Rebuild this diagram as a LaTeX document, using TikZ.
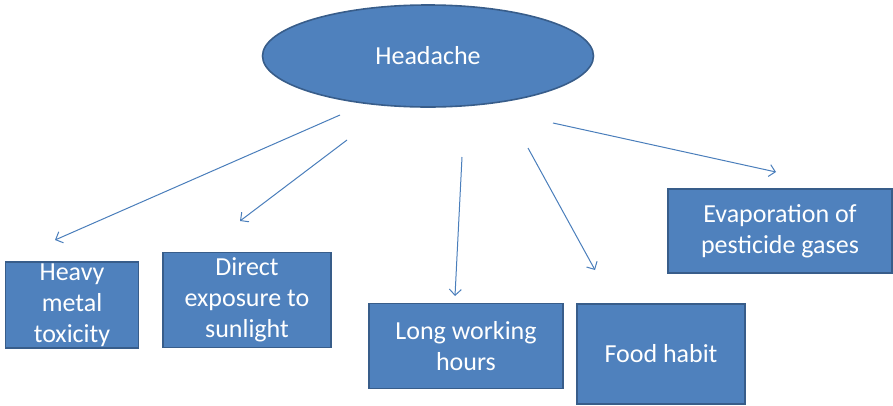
\documentclass[tikz,border=0pt]{standalone}
\usepackage{fontspec}
\setmainfont{Carlito}
\usetikzlibrary{arrows.meta,shapes}

\definecolor{boxblue}{HTML}{4F81BD}
\definecolor{rimblue}{HTML}{385D8A}
\definecolor{lineblue}{HTML}{4A7EBB}

\begin{document}
\begin{tikzpicture}[x=1pt,y=-1pt,>={Straight Barb[length=6pt,width=12pt]},
		every edge/.style={draw=lineblue,line width=1pt,->},
		cause node/.style={rectangle,draw=rimblue,fill=boxblue,line width=1.6pt,text=white,align=center,inner sep=0pt,font=\fontsize{26}{31}\selectfont},
		main node/.style={ellipse,draw=rimblue,fill=boxblue,line width=1.6pt,text=white,inner sep=0pt,font=\fontsize{26}{31}\selectfont}]
		
		\useasboundingbox (0,0) rectangle (893,405);
		
		\node[main node,minimum width=331pt,minimum height=102pt](head) at (428,56){Headache};
		
		\node[cause node,minimum width=133pt,minimum height=86pt](metal) at (72,305){Heavy\\metal\\toxicity};
		\node[cause node,minimum width=168pt,minimum height=95pt](sun) at (247,300){Direct\\exposure to\\sunlight};
		\node[cause node,minimum width=194pt,minimum height=85pt](work) at (466,346){Long working\\hours};
		\node[cause node,minimum width=168pt,minimum height=100pt](food) at (661,354){Food habit};
		\node[cause node,minimum width=224pt,minimum height=84pt](gas) at (780,231){Evaporation of\\pesticide gases};
		
		% free arrow ends
		\coordinate (a1) at (340,115); \coordinate (b1) at (55,240);
		\coordinate (a2) at (347,140); \coordinate (b2) at (240,221);
		\coordinate (a3) at (462,157); \coordinate (b3) at (455,296);
		\coordinate (a4) at (528,148); \coordinate (b4) at (595,270);
		\coordinate (a5) at (553,123); \coordinate (b5) at (776,172);
		
		\path
		(a1) edge (b1)
		(a2) edge (b2)
		(a3) edge (b3)
		(a4) edge (b4)
		(a5) edge (b5);
		
	\end{tikzpicture}
\end{document}
